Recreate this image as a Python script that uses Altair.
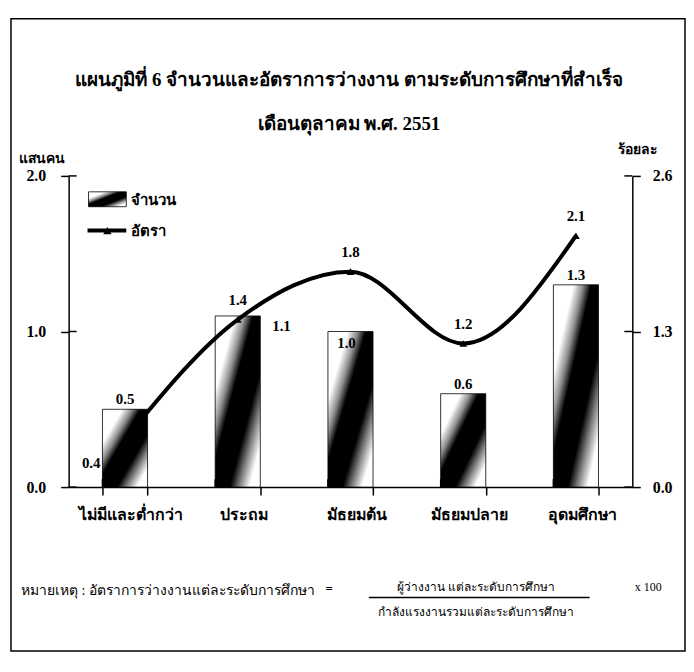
import altair as alt
import pandas as pd

# ---------------- data ----------------
categories = ["ไม่มีและต่ำกว่า", "ประถม", "มัธยมต้น", "มัธยมปลาย", "อุดมศึกษา"]
counts = [0.5, 1.1, 1.0, 0.6, 1.3]      # แสนคน
rates = [0.4, 1.4, 1.8, 1.2, 2.1]       # ร้อยละ
left_ticks = [0.0, 1.0, 2.0]
right_ticks = [0.0, 1.3, 2.6]

title_text = "แผนภูมิที่ 6 จำนวนและอัตราการว่างงาน ตามระดับการศึกษาที่สำเร็จ"
subtitle_text = "เดือนตุลาคม  พ.ศ. 2551"
left_title = "แสนคน"
right_title = "ร้อยละ"
legend_bar = "จำนวน"
legend_line = "อัตรา"
note_left = "หมายเหตุ : อัตราการว่างงานแต่ละระดับการศึกษา"
note_eq = "="
note_num = "ผู้ว่างงาน แต่ละระดับการศึกษา"
note_den = "กำลังแรงงานรวมแต่ละระดับการศึกษา"
note_mul = "x  100"

df = pd.DataFrame({"cat": categories, "count": counts, "rate": rates})
left_tick_df = pd.DataFrame({"count": left_ticks})
right_tick_df = pd.DataFrame({"rate": right_ticks})
one = pd.DataFrame({"k": [0]})

W, H = 567, 313
FONT = "Liberation Serif"

grad = alt.Gradient(
    gradient="linear",
    stops=[
        alt.GradientStop(color="white", offset=0),
        alt.GradientStop(color="white", offset=0.22),
        alt.GradientStop(color="#8c8c8c", offset=0.33),
        alt.GradientStop(color="black", offset=0.42),
        alt.GradientStop(color="black", offset=0.66),
        alt.GradientStop(color="#7a7a7a", offset=0.76),
        alt.GradientStop(color="white", offset=0.88),
        alt.GradientStop(color="white", offset=1),
    ],
    x1=0, y1=0, x2=1, y2=1,
)

x_scale = alt.Scale(domain=categories, paddingInner=0.6, paddingOuter=0.3)
x_axis = alt.Axis(
    title=None, labelAngle=0, tickBand="extent", tickSize=8, tickWidth=1.5,
    tickColor="black", domainColor="black", domainWidth=1.5,
    labelPadding=12, labelFontSize=16, labelFontWeight="bold", labelFont=FONT,
    labelColor="black", labelOffset=6,
)
x_enc = alt.X("cat:N", sort=categories, scale=x_scale, axis=x_axis)

left_axis = alt.Axis(
    orient="left", values=left_ticks, format=".1f", grid=False,
    tickSize=8, tickWidth=1.5, tickColor="black", domainColor="black", domainWidth=1.5,
    labelPadding=15, labelFontSize=16, labelFontWeight="bold", labelFont=FONT, labelColor="black",
    title=left_title, titleAngle=0, titleAlign="left", titleBaseline="bottom",
    titleX=-50, titleY=-10, titleFontSize=14, titleFontWeight="bold", titleFont=FONT, titleColor="black",
)
right_axis = alt.Axis(
    orient="right", values=right_ticks, format=".1f", grid=False,
    tickSize=8, tickWidth=1.5, tickColor="black", domainColor="black", domainWidth=1.5,
    labelPadding=12, labelFontSize=16, labelFontWeight="bold", labelFont=FONT, labelColor="black",
    title=right_title, titleAngle=0, titleAlign="left", titleBaseline="bottom",
    titleX=-15, titleY=-20, titleFontSize=14, titleFontWeight="bold", titleFont=FONT, titleColor="black",
)

y_left = alt.Y("count:Q", scale=alt.Scale(domain=[0, 2]), axis=left_axis)
y_right = alt.Y("rate:Q", scale=alt.Scale(domain=[0, 2.6]), axis=right_axis)

base = alt.Chart(df)

bars = base.mark_bar(fill=grad, stroke="black", strokeWidth=0.8).encode(x=x_enc, y=y_left)

lbl_style = dict(font=FONT, fontSize=15, fontWeight="bold", color="black")
bar_lbl_above = base.transform_filter(
    alt.FieldOneOfPredicate(field="cat", oneOf=[categories[0], categories[3], categories[4]])
).mark_text(dy=-10, **lbl_style).encode(x=x_enc, y=y_left, text=alt.Text("count:Q", format=".1f"))
bar_lbl_right = base.transform_filter(
    alt.FieldOneOfPredicate(field="cat", oneOf=[categories[1]])
).mark_text(dx=44, dy=10, **lbl_style).encode(x=x_enc, y=y_left, text=alt.Text("count:Q", format=".1f"))
bar_lbl_inside = base.transform_filter(
    alt.FieldOneOfPredicate(field="cat", oneOf=[categories[2]])
).mark_text(dx=-4, dy=12, **lbl_style).encode(x=x_enc, y=y_left, text=alt.Text("count:Q", format=".1f"))

# inward half of the crossing ticks on the left axis and x axis
left_in_ticks = alt.Chart(left_tick_df).mark_rule(color="black", strokeWidth=1.5).encode(
    y=y_left, x=alt.value(0), x2=alt.value(8))
x_in_ticks = alt.Chart(df).mark_rule(color="black", strokeWidth=1.5).encode(
    x=alt.X("cat:N", sort=categories, scale=x_scale, bandPosition=0, axis=x_axis),
    y=alt.value(H), y2=alt.value(H - 8))

left_layer = alt.layer(bars, bar_lbl_above, bar_lbl_right, bar_lbl_inside, left_in_ticks, x_in_ticks)

line = base.mark_line(color="black", strokeWidth=4, interpolate="monotone").encode(x=x_enc, y=y_right)
pts = base.mark_point(shape="triangle-up", filled=True, color="black", size=60, opacity=1).encode(x=x_enc, y=y_right)
rate_lbl_above = base.transform_filter(
    alt.FieldOneOfPredicate(field="cat", oneOf=categories[1:])
).mark_text(dy=-20, **lbl_style).encode(x=x_enc, y=y_right, text=alt.Text("rate:Q", format=".1f"))
rate_lbl_first = base.transform_filter(
    alt.FieldOneOfPredicate(field="cat", oneOf=[categories[0]])
).mark_text(dx=-34, dy=24, **lbl_style).encode(x=x_enc, y=y_right, text=alt.Text("rate:Q", format=".1f"))
right_in_ticks = alt.Chart(right_tick_df).mark_rule(color="black", strokeWidth=1.5).encode(
    y=y_right, x=alt.value(W - 8), x2=alt.value(W))

right_layer = alt.layer(line, pts, rate_lbl_above, rate_lbl_first, right_in_ticks)

# ---------------- decorations ----------------
deco = alt.Chart(one)
frame = deco.mark_rect(fill="transparent", stroke="black", strokeWidth=1.5).encode(
    x=alt.value(-58), x2=alt.value(620), y=alt.value(-158), y2=alt.value(478))

title_m = deco.mark_text(text=title_text, font=FONT, fontSize=19, fontWeight="bold", color="black",
                         align="center", baseline="middle").encode(x=alt.value(282), y=alt.value(-96))
subtitle_m = deco.mark_text(text=subtitle_text, font=FONT, fontSize=19, fontWeight="bold", color="black",
                            align="center", baseline="middle").encode(x=alt.value(282), y=alt.value(-52))

leg_rect = deco.mark_rect(fill=grad, stroke="black", strokeWidth=0.8).encode(
    x=alt.value(20), x2=alt.value(58), y=alt.value(16), y2=alt.value(31))
leg_rect_txt = deco.mark_text(text=legend_bar, font=FONT, fontSize=15, fontWeight="bold", color="black",
                              align="left", baseline="middle").encode(x=alt.value(63), y=alt.value(24))
leg_line = deco.mark_rule(color="black", strokeWidth=4).encode(
    x=alt.value(19), x2=alt.value(58), y=alt.value(55))
leg_pt = deco.mark_point(shape="triangle-up", filled=True, color="black", size=70, opacity=1).encode(
    x=alt.value(39), y=alt.value(55))
leg_line_txt = deco.mark_text(text=legend_line, font=FONT, fontSize=15, fontWeight="bold", color="black",
                              align="left", baseline="middle").encode(x=alt.value(63), y=alt.value(55))

note_style = dict(font=FONT, color="black", baseline="middle")
n1 = deco.mark_text(text=note_left, align="left", fontSize=14, **note_style).encode(
    x=alt.value(-48), y=alt.value(418))
n2 = deco.mark_text(text=note_eq, align="center", fontSize=13, fontWeight="bold", **note_style).encode(
    x=alt.value(262), y=alt.value(416))
n3 = deco.mark_text(text=note_num, align="center", fontSize=12, **note_style).encode(
    x=alt.value(410), y=alt.value(414))
n_rule = deco.mark_rule(color="black", strokeWidth=1.5).encode(
    x=alt.value(302), x2=alt.value(524), y=alt.value(424))
n4 = deco.mark_text(text=note_den, align="center", fontSize=12, **note_style).encode(
    x=alt.value(410), y=alt.value(439))
n5 = deco.mark_text(text=note_mul, align="center", fontSize=12, **note_style).encode(
    x=alt.value(583), y=alt.value(414))

chart = alt.layer(
    left_layer, right_layer,
    frame, title_m, subtitle_m,
    leg_rect, leg_rect_txt, leg_line, leg_pt, leg_line_txt,
    n1, n2, n3, n_rule, n4, n5,
).resolve_scale(y="independent").properties(
    width=W, height=H,
    padding={"left": 2, "top": 8, "right": 0, "bottom": 0},
).configure_view(stroke=None)

chart.save("out.html", embed_options={"renderer": "svg", "actions": False})
